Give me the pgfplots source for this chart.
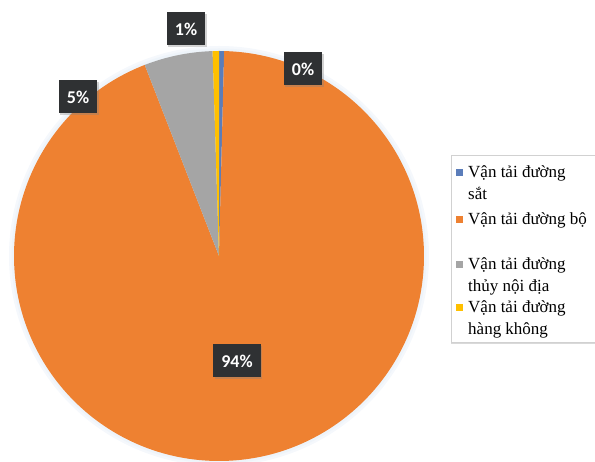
\documentclass[border=0pt]{standalone}
\usepackage{pgfplots}
\pgfplotsset{compat=1.18}
\usepackage{pgfplotstable}
\usepackage{fontspec}
\setmainfont{Liberation Serif}
\newfontfamily\lblfont{Carlito}
\usetikzlibrary{shadows}

\definecolor{cSat}{HTML}{5B7DBA}
\definecolor{cBo}{HTML}{EE8131}
\definecolor{cThuy}{HTML}{A5A5A5}
\definecolor{cHk}{HTML}{FFC000}
\definecolor{lblbg}{HTML}{2F3133}
\definecolor{halo}{HTML}{EEF4FA}

% share of each mode (%), clockwise from 12 o'clock
\pgfplotstableread{
value
0.4
93.7
5.4
0.5
}\piedata

\xdef\angstart{90}
\pgfplotsforeachungrouped \i in {0,1,2,3}{%
  \pgfplotstablegetelem{\i}{value}\of\piedata
  \pgfmathsetmacro\endang{\angstart-3.6*\pgfplotsretval}%
  \expandafter\xdef\csname sa\i\endcsname{\angstart}%
  \expandafter\xdef\csname ea\i\endcsname{\endang}%
  \xdef\angstart{\endang}%
}

\newcommand\slice[2]{%
  \fill[#2] (axis cs:219,206) -- ++(\csname sa#1\endcsname:205pt)
    arc[start angle=\csname sa#1\endcsname, end angle=\csname ea#1\endcsname, radius=205pt] -- cycle;}

\tikzset{lbl/.style={fill=lblbg, text=white, font=\lblfont\bfseries\fontsize{18}{20}\selectfont,
  inner xsep=8pt, minimum height=33pt,
  drop shadow={opacity=0.35, shadow xshift=1.5pt, shadow yshift=-1.5pt}},
  leg/.style={anchor=base west, inner sep=0pt, font=\fontsize{17}{22}\selectfont, text=black}}

\begin{document}
\begin{tikzpicture}
\begin{axis}[
  x=1pt, y=1pt,
  xmin=0, xmax=595, ymin=0, ymax=462,
  hide axis, clip=false,
]
\coordinate (bl) at (axis cs:0,0);
\coordinate (tr) at (axis cs:595,462);
% soft halo around the pie
\fill[halo!60] (axis cs:219,206) circle[radius=210pt];
\fill[halo] (axis cs:219,206) circle[radius=207.5pt];
\slice{0}{cSat}
\slice{1}{cBo}
\slice{2}{cThuy}
\slice{3}{cHk}

% data labels
\node[lbl] at (axis cs:186,433) {1\%};
\node[lbl] at (axis cs:303,393) {0\%};
\node[lbl] at (axis cs:78,365) {5\%};
\node[lbl] at (axis cs:237,101) {94\%};

% legend
\draw[black!18, fill=white, drop shadow={opacity=0.3, shadow xshift=0pt, shadow yshift=-2pt}]
  (axis cs:451,120) rectangle (axis cs:602,307);
\fill[cSat] (axis cs:455.5,285.5) rectangle (axis cs:462.5,292.5);
\fill[cBo]  (axis cs:455.5,238.5) rectangle (axis cs:462.5,245.5);
\fill[cThuy](axis cs:455.5,193.5) rectangle (axis cs:462.5,200.5);
\fill[cHk]  (axis cs:455.5,150.5) rectangle (axis cs:462.5,157.5);
\node[leg] at (axis cs:468,284) {Vận tải đường};
\node[leg] at (axis cs:468,262) {sắt};
\node[leg] at (axis cs:468,237) {Vận tải đường bộ};
\node[leg] at (axis cs:468,192) {Vận tải đường};
\node[leg] at (axis cs:468,170) {thủy nội địa};
\node[leg] at (axis cs:468,149) {Vận tải đường};
\node[leg] at (axis cs:468,127) {hàng không};
\end{axis}
\pgfresetboundingbox
\path[use as bounding box] (bl) rectangle (tr);
\end{tikzpicture}
\end{document}
